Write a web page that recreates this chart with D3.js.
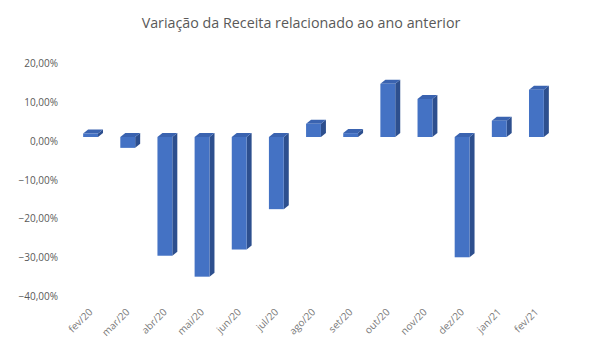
<!DOCTYPE html>
<html>
<head>
<meta charset="utf-8">
<script src="https://cdn.jsdelivr.net/npm/d3@7"></script>
<style>
  body { margin: 0; background: #fff; }
  text { font-family: "Open Sans", "Liberation Sans", sans-serif; }
</style>
</head>
<body>
<svg id="chart"></svg>
<script>
// data
const months = ["fev/20","mar/20","abr/20","mai/20","jun/20","jul/20","ago/20","set/20","out/20","nov/20","dez/20","jan/21","fev/21"];
const variation = [0.9, -2.8, -30.6, -36.0, -29.0, -18.6, 3.4, 1.0, 13.7, 9.8, -31.0, 4.2, 12.2];
const yTicks = [20, 10, 0, -10, -20, -30, -40];

const width = 590, height = 352;
const depth = {dx: 5, dy: 4};
const colors = {front: "#4472C4", top: "#3A63B0", side: "#2D4F8E"};

const svg = d3.select("#chart").attr("width", width).attr("height", height);

const x = d3.scaleBand().domain(months).range([72, 555]).paddingInner(0.6).paddingOuter(0.3);
const y = d3.scaleLinear().domain([-40, 20]).range([292.2, 59.4]);

svg.append("text")
  .attr("x", 301).attr("y", 28)
  .attr("text-anchor", "middle")
  .style("font-size", "14.3px")
  .style("fill", "#595959")
  .text("Variação da Receita relacionado ao ano anterior");

// y axis labels (back wall sits a bit lower than bar fronts)
const yAxis = svg.append("g")
  .attr("transform", "translate(58,4)")
  .call(d3.axisLeft(y).tickValues(yTicks).tickSize(0).tickPadding(0)
    .tickFormat(d => d3.format(".2f")(d).replace(".", ",") + "%"));
yAxis.select(".domain").remove();
yAxis.selectAll("text").style("font-size", "10px").style("fill", "#595959");

// x axis labels, rotated
const xAxis = svg.append("g").attr("transform", "translate(0,307)");
xAxis.selectAll("text")
  .data(months)
  .join("text")
  .attr("transform", d => `translate(${x(d) + x.bandwidth() / 2 - 3},0) rotate(-45)`)
  .attr("text-anchor", "end")
  .attr("dy", "0.8em")
  .style("font-size", "10px")
  .style("fill", "#7a7a7a")
  .text(d => d);

// 3d bars
const bars = svg.append("g").selectAll("g")
  .data(months.map((m, i) => ({m, v: variation[i]})))
  .join("g");

bars.each(function(d) {
  const g = d3.select(this);
  const x0 = x(d.m), x1 = x0 + x.bandwidth();
  const yt = y(Math.max(d.v, 0)), yb = y(Math.min(d.v, 0));
  g.append("path")
    .attr("d", `M${x1},${yt}L${x1 + depth.dx},${yt - depth.dy}L${x1 + depth.dx},${yb - depth.dy}L${x1},${yb}Z`)
    .attr("fill", colors.side);
  g.append("path")
    .attr("d", `M${x0},${yt}L${x0 + depth.dx},${yt - depth.dy}L${x1 + depth.dx},${yt - depth.dy}L${x1},${yt}Z`)
    .attr("fill", colors.top);
  g.append("rect")
    .attr("x", x0).attr("y", yt)
    .attr("width", x.bandwidth()).attr("height", yb - yt)
    .attr("fill", colors.front);
});
</script>
</body>
</html>
